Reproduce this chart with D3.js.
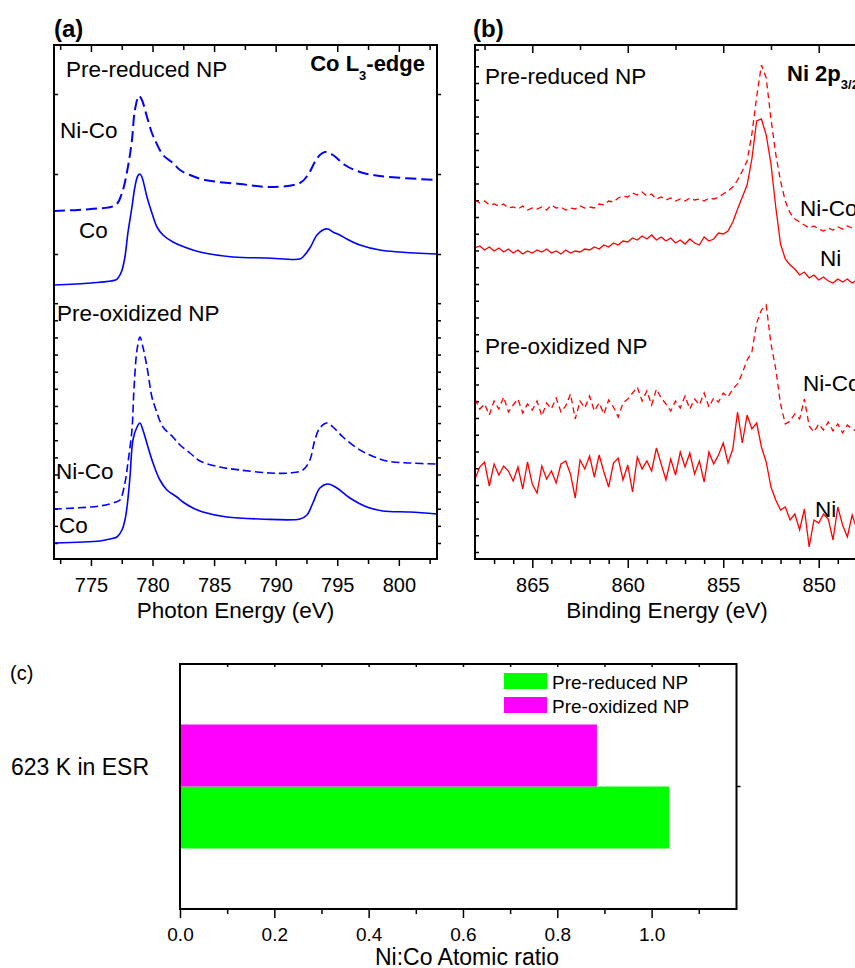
<!DOCTYPE html>
<html>
<head>
<meta charset="utf-8">
<script src="https://cdn.jsdelivr.net/npm/d3@7"></script>
<style>
html,body{margin:0;padding:0;background:#fff;}
svg{display:block;}
</style>
</head>
<body>
<svg id="chart" width="855" height="968"></svg>
<script>
// ================= DATA =================
// Panel (a): Co L3-edge, photon energy (eV) vs intensity (a.u.)
const coReducedEnergy = [772.0, 775.0, 777.0, 777.2, 777.5, 777.76, 778.0, 778.33, 778.57, 778.8, 778.98, 779.14, 779.55, 779.95, 780.36, 780.85, 781.66, 782.8, 783.85, 786.53, 789.29, 791.97, 792.21, 792.78, 793.35, 793.83, 794.24, 794.65, 795.2, 795.78, 796.84, 798.46, 800.08, 803.1];
const coReducedIntensity = [274, 276, 279, 281, 288, 302, 326, 352, 372, 383, 385, 382, 362, 346, 332, 324, 317, 311, 307, 302, 301, 300, 302, 311, 324, 329, 330, 327, 324, 320, 314, 309, 307, 305];

const niCoReducedEnergy = [772.0, 775.0, 777.0, 777.52, 778.0, 778.33, 778.57, 778.9, 779.14, 779.55, 779.95, 780.2, 780.85, 781.66, 782.23, 783.04, 784.26, 787.1, 789.53, 791.97, 792.62, 793.18, 793.59, 794.0, 794.65, 795.62, 796.84, 798.46, 803.1];
const niCoReducedIntensity = [348, 350, 354, 366, 392, 419, 449, 463, 459, 442, 426, 419, 404, 396, 389, 384, 379, 375, 372, 376, 384, 397, 404, 407, 404, 394, 387, 383, 379];

const coOxidizedEnergy = [772.0, 775.73, 776.55, 777.11, 777.52, 777.76, 777.93, 778.17, 778.41, 778.74, 778.98, 779.22, 779.63, 780.04, 780.6, 781.17, 781.98, 782.47, 783.28, 784.09, 786.04, 788.72, 791.97, 792.54, 793.02, 793.59, 794.24, 794.97, 796.03, 797.41, 798.7, 800.9, 803.1];
const coOxidizedIntensity = [16, 18, 20, 22, 29, 39, 52, 82, 119, 132, 136, 129, 112, 96, 79, 69, 62, 57, 51, 47, 42, 40, 40, 44, 56, 71, 75, 71, 61, 52, 48, 47, 45];

const niCoOxidizedEnergy = [772.0, 775.73, 777.03, 777.36, 777.76, 778.0, 778.33, 778.49, 778.74, 778.98, 779.22, 779.55, 779.95, 780.2, 780.85, 781.66, 782.23, 783.04, 783.85, 785.47, 787.1, 789.53, 791.16, 792.21, 792.78, 793.18, 793.59, 794.16, 794.65, 795.46, 796.59, 797.65, 799.03, 800.9, 803.1];
const niCoOxidizedIntensity = [50, 53, 57, 59, 76, 96, 129, 169, 209, 222, 212, 192, 162, 152, 132, 122, 114, 106, 98, 92, 89, 86, 86, 89, 99, 119, 131, 136, 132, 122, 111, 104, 98, 96, 95];

const aTickLabels = [775, 780, 785, 790, 795, 800];

// Panel (b): Ni 2p3/2, binding energy sampled from 868 eV downward every 0.25 eV
const bStartEnergy = 868.0;
const bStepEnergy = 0.25;
const niCoReducedB = [
  359, 356, 358, 354,  355, 353, 355, 351,  352, 350, 353, 349,  351, 350, 352, 349,
  354, 351, 352, 349,  351, 350, 353, 351,  352, 351, 355, 354,  358, 357, 361, 363,
  362, 366, 364, 367,  363, 365, 360, 362,  359, 361, 358, 360,  358, 361, 359, 360,
  358, 361, 360, 362,  365, 368, 372, 379,  388, 398, 425, 462,  494, 481, 440, 405,
  378, 358, 346, 340,  337, 334, 331, 333,  330, 328, 331, 329,  332, 330, 333, 331,
  332, 331, 333, 330];
const niReducedB = [
  311, 313, 309, 312,  308, 311, 307, 310,  306, 309, 305, 308,  306, 309, 307, 310,
  306, 308, 305, 309,  306, 308, 307, 310,  309, 312, 310, 314,  312, 316, 314, 318,
  317, 321, 319, 323,  320, 324, 319, 322,  318, 321, 316, 319,  315, 320, 316, 314,
  322, 318, 320, 326,  325, 328, 337, 350,  362, 374, 400, 438,  440, 424, 395, 352,
  315, 300, 294, 290,  284, 287, 281, 284,  279, 282, 278, 276,  280, 277, 280, 276,
  279, 278, 277, 279];
const niCoOxidizedB = [
  160, 150, 155, 144,  158, 150, 162, 147,  154, 160, 146, 155,  149, 158, 143, 156,
  150, 161, 147, 153,  165, 140, 158, 151,  163, 148, 156, 145,  159, 152, 142, 156,
  160, 166, 172, 158,  168, 154, 170, 161,  155, 148, 158, 151,  163, 150, 160, 154,
  166, 152, 161, 157,  166, 162, 170, 175,  186, 199, 207, 236,  249, 254, 215, 190,
  155, 135, 138, 145,  140, 160, 133, 127,  135, 129, 137, 128,  135, 126, 134, 130,
  128, 133, 129, 131];
const niOxidizedB = [
   80,  92,  97,  73,   95,  84,  93,  88,   78,  92,  70,  97,   75,  66,  93,  80,
   88,  76,  95,  98,   85,  61,  99,  90,  103,  82, 104,  87,   72,  96, 101,  79,
   94,  67, 102,  90,   98,  88, 111,  95,   79, 100,  84, 107,   92, 106,  85,  98,
   77, 107,  95, 104,  116,  96, 110, 147,  116, 144, 130, 136,  112,  97,  72,  59,
   49,  52,  39,  45,   29,  50,  12,  39,   36,  45,  40,  19,   52,  34,  22,  44,
   30,  41,  25,  38];
const bTickLabels = [865, 860, 855, 850];

// Panel (c): Ni:Co atomic ratio
const cCategories = ["623 K in ESR"];
const cSeriesNames = ["Pre-reduced NP", "Pre-oxidized NP"];
const cSeriesColors = ["#00ff00", "#ff00ff"];
const preReducedRatio = [1.037];
const preOxidizedRatio = [0.884];
const cTickLabels = [0.0, 0.2, 0.4, 0.6, 0.8, 1.0];

// ================= DRAWING =================
const FONT = '"Liberation Sans", Arial, Helvetica, sans-serif';
const svg = d3.select("#chart").attr("font-family", FONT);

function styleAxis(g, fontSize) {
  g.select(".domain").remove();
  g.selectAll("line").attr("stroke", "#000").attr("stroke-width", 1.5);
  g.selectAll("text").attr("font-size", fontSize).attr("font-family", FONT).attr("fill", "#000");
}
function frame(x0, y0, x1, y1) {
  svg.append("rect").attr("x", x0).attr("y", y0).attr("width", x1 - x0).attr("height", y1 - y0)
    .attr("fill", "none").attr("stroke", "#000").attr("stroke-width", 2);
}
function label(x, y, txt, size, opts = {}) {
  return svg.append("text").attr("x", x).attr("y", y).attr("font-size", size)
    .attr("font-weight", opts.bold ? "bold" : "normal")
    .attr("text-anchor", opts.anchor || "start").attr("fill", "#000").text(txt);
}
const zip = (xs, ys) => xs.map((x, i) => [x, ys[i]]);

// ---------- Panel (a) ----------
const aL = 54, aR = 437, pT = 45, pB = 559;
const xA = d3.scaleLinear().domain([772, 803.1]).range([aL, aR]);
const yA = d3.scaleLinear().domain([0, 514]).range([pB, pT]);
svg.append("clipPath").attr("id", "clipA").append("rect")
  .attr("x", aL).attr("y", pT).attr("width", aR - aL).attr("height", pB - pT);

const aMinor = d3.range(772.5, 803, 5);
svg.append("g").attr("transform", `translate(0,${pB})`)
  .call(d3.axisBottom(xA).tickValues(aTickLabels).tickSize(7).tickPadding(12).tickFormat(d3.format("d")))
  .call(g => styleAxis(g, 20));
svg.append("g").attr("transform", `translate(0,${pB})`)
  .call(d3.axisBottom(xA).tickValues(aMinor).tickSize(5).tickFormat(""))
  .call(g => styleAxis(g, 20));
svg.append("g").attr("transform", `translate(0,${pT})`)
  .call(d3.axisTop(xA).tickValues(aTickLabels).tickSize(-7).tickFormat(""))
  .call(g => styleAxis(g, 20));
svg.append("g").attr("transform", `translate(0,${pT})`)
  .call(d3.axisTop(xA).tickValues(aMinor).tickSize(-5).tickFormat(""))
  .call(g => styleAxis(g, 20));
const aYTicks = [465, 385, 305].concat(d3.range(16, 260, 17.13));
svg.append("g").attr("transform", `translate(${aL},0)`)
  .call(d3.axisLeft(yA).tickValues(aYTicks).tickSize(-4).tickFormat(""))
  .call(g => styleAxis(g, 20));
svg.append("g").attr("transform", `translate(${aR},0)`)
  .call(d3.axisRight(yA).tickValues(aYTicks).tickSize(4).tickFormat(""))
  .call(g => styleAxis(g, 20));

const lineA = d3.line().x(d => xA(d[0])).y(d => yA(d[1])).curve(d3.curveCatmullRom.alpha(0.5));
const gA = svg.append("g").attr("clip-path", "url(#clipA)");
const aSeries = [
  {d: zip(niCoReducedEnergy, niCoReducedIntensity), dash: "11,5", w: 2},
  {d: zip(coReducedEnergy, coReducedIntensity), dash: null, w: 1.6},
  {d: zip(niCoOxidizedEnergy, niCoOxidizedIntensity), dash: "8,4", w: 1.6},
  {d: zip(coOxidizedEnergy, coOxidizedIntensity), dash: null, w: 1.6}
];
aSeries.forEach(s => {
  gA.append("path").attr("d", lineA(s.d)).attr("fill", "none").attr("stroke", "#0000ff")
    .attr("stroke-width", s.w).attr("stroke-dasharray", s.dash);
});
frame(aL, pT, aR, pB);

label(54, 37, "(a)", 24, {bold: true});
label(66, 77, "Pre-reduced NP", 22.5);
const coT = label(425, 71, "", 22, {bold: true, anchor: "end"});
coT.append("tspan").text("Co L");
coT.append("tspan").attr("font-size", 13).attr("dy", 9).text("3");
coT.append("tspan").attr("dy", -9).text("-edge");
label(60, 138, "Ni-Co", 22.5);
label(79, 238, "Co", 22.5);
label(57, 321, "Pre-oxidized NP", 22.5);
label(56, 479, "Ni-Co", 22.5);
label(59, 533, "Co", 22.5);
label((aL + aR) / 2 - 10, 618, "Photon Energy (eV)", 22.5, {anchor: "middle"});

// ---------- Panel (b) ----------
const bL = 475, bR = 876;
const xB = d3.scaleLinear().domain([868, 847]).range([bL, bR]);
const yB = d3.scaleLinear().domain([0, 514]).range([pB, pT]);
svg.append("clipPath").attr("id", "clipB").append("rect")
  .attr("x", bL).attr("y", pT).attr("width", bR - bL).attr("height", pB - pT);

const bEnergies = niReducedB.map((_, i) => bStartEnergy - i * bStepEnergy);
const bMinor = d3.range(867, 847, -1).filter(v => v % 5 !== 0);
svg.append("g").attr("transform", `translate(0,${pB})`)
  .call(d3.axisBottom(xB).tickValues(bTickLabels).tickSize(9).tickPadding(10).tickFormat(d3.format("d")))
  .call(g => styleAxis(g, 20));
svg.append("g").attr("transform", `translate(0,${pB})`)
  .call(d3.axisBottom(xB).tickValues(bMinor).tickSize(5).tickFormat(""))
  .call(g => styleAxis(g, 20));
svg.append("g").attr("transform", `translate(0,${pT})`)
  .call(d3.axisTop(xB).tickValues(bTickLabels).tickSize(-8).tickFormat(""))
  .call(g => styleAxis(g, 20));
svg.append("g").attr("transform", `translate(0,${pT})`)
  .call(d3.axisTop(xB).tickValues([867.5, 862.5, 857.5, 852.5]).tickSize(-5).tickFormat(""))
  .call(g => styleAxis(g, 20));
svg.append("g").attr("transform", `translate(${bL},0)`)
  .call(d3.axisLeft(yB).tickValues(d3.range(7, 514, 16.75)).tickSize(-4).tickFormat(""))
  .call(g => styleAxis(g, 20));

const lineB = d3.line().x(d => xB(d[0])).y(d => yB(d[1]));
const gB = svg.append("g").attr("clip-path", "url(#clipB)");
const bSeries = [
  {v: niCoReducedB, dash: "6,4"},
  {v: niReducedB, dash: null},
  {v: niCoOxidizedB, dash: "6,4"},
  {v: niOxidizedB, dash: null}
];
bSeries.forEach(s => {
  gB.append("path").attr("d", lineB(zip(bEnergies, s.v))).attr("fill", "none")
    .attr("stroke", "#ff0000").attr("stroke-width", 1.3).attr("stroke-dasharray", s.dash);
});
frame(bL, pT, bR, pB);

label(473, 37, "(b)", 24, {bold: true});
label(485, 84, "Pre-reduced NP", 22.5);
const niT = label(787, 81, "", 22, {bold: true});
niT.append("tspan").text("Ni 2p");
niT.append("tspan").attr("font-size", 13).attr("dy", 8).text("3/2");
label(800, 216, "Ni-Co", 22.5);
label(820, 266, "Ni", 22.5);
label(485, 354, "Pre-oxidized NP", 22.5);
label(803, 391, "Ni-Co", 22.5);
label(815, 517, "Ni", 22.5);
label(667, 618, "Binding Energy (eV)", 22.5, {anchor: "middle"});

// ---------- Panel (c) ----------
const cL = 180, cR = 736.5, cT = 664, cB = 909;
const xC = d3.scaleLinear().domain([0, 1.18]).range([cL, cR]);
const yC = d3.scaleBand().domain(cCategories).range([cT, cB]).paddingInner(0).paddingOuter(0.488);
const ySub = d3.scaleBand().domain(["Pre-oxidized NP", "Pre-reduced NP"]).range([0, yC.bandwidth()]);

svg.append("g").attr("transform", `translate(0,${cB})`)
  .call(d3.axisBottom(xC).tickValues(cTickLabels).tickSize(9).tickPadding(10).tickFormat(d3.format(".1f")))
  .call(g => styleAxis(g, 19));
svg.append("g").attr("transform", `translate(0,${cB})`)
  .call(d3.axisBottom(xC).tickValues([0.1, 0.3, 0.5, 0.7, 0.9, 1.1]).tickSize(5).tickFormat(""))
  .call(g => styleAxis(g, 19));
svg.append("g").attr("transform", `translate(0,${cT})`)
  .call(d3.axisTop(xC).tickValues(d3.range(1, 12).map(i => i / 10)).tickSize(-3).tickFormat(""))
  .call(g => styleAxis(g, 19));
svg.append("g").attr("transform", `translate(${cR},0)`)
  .call(d3.axisRight(yC).tickSize(4).tickFormat(""))
  .call(g => styleAxis(g, 19));

const cData = [
  {name: "Pre-reduced NP", values: preReducedRatio, color: cSeriesColors[0]},
  {name: "Pre-oxidized NP", values: preOxidizedRatio, color: cSeriesColors[1]}
];
cData.forEach(s => {
  svg.append("g").selectAll("rect").data(cCategories).join("rect")
    .attr("x", xC(0))
    .attr("y", c => yC(c) + ySub(s.name))
    .attr("width", (c, i) => xC(s.values[i]) - xC(0))
    .attr("height", ySub.bandwidth())
    .attr("fill", s.color);
});
frame(cL, cT, cR, cB);

// legend
cSeriesNames.forEach((n, i) => {
  svg.append("rect").attr("x", 504).attr("y", 673 + i * 24).attr("width", 43).attr("height", 16)
    .attr("fill", cSeriesColors[i]);
  label(552, 689 + i * 23.5, n, 19);
});

label(10, 680, "(c)", 20);
cCategories.forEach(c => label(149, yC(c) + yC.bandwidth() / 2 - 11.5, c, 23, {anchor: "end"}));
label(467, 965, "Ni:Co Atomic ratio", 23, {anchor: "middle"});
</script>
</body>
</html>
